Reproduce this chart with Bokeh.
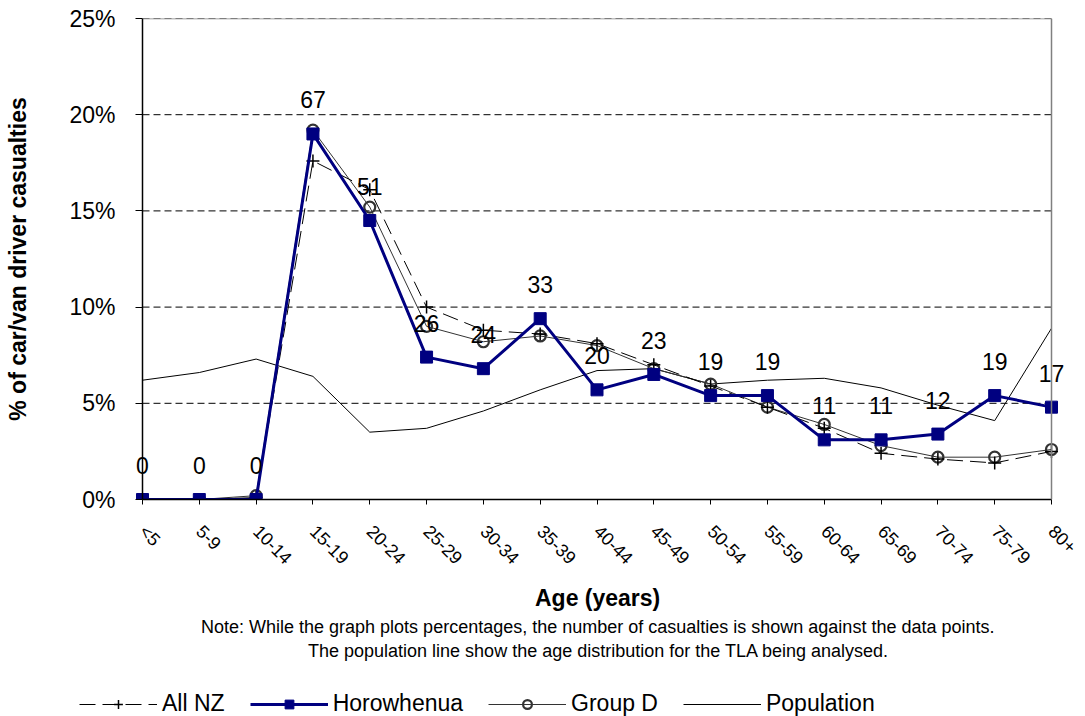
import math
from bokeh.plotting import figure
from bokeh.layouts import column
from bokeh.core.properties import value
from bokeh.models import (Range1d, FixedTicker, PrintfTickFormatter, LabelSet, ColumnDataSource,
                          Legend, LegendItem, Title, Span)
from bokeh.embed import file_html
from bokeh.resources import INLINE

categories = ["<5", "5-9", "10-14", "15-19", "20-24", "25-29", "30-34", "35-39", "40-44",
              "45-49", "50-54", "55-59", "60-64", "65-69", "70-74", "75-79", "80+"]
counts = [0, 0, 0, 67, 51, 26, 24, 33, 20, 23, 19, 19, 11, 11, 12, 19, 17]
horowhenua = [0, 0, 0, 19.0, 14.5, 7.4, 6.8, 9.4, 5.7, 6.5, 5.4, 5.4, 3.1, 3.1, 3.4, 5.4, 4.8]
all_nz = [0, 0, 0.1, 17.6, 16.1, 10.0, 8.8, 8.6, 8.1, 7.0, 5.9, 4.8, 3.7, 2.4, 2.1, 1.9, 2.5]
group_d = [0, 0, 0.2, 19.2, 15.2, 9.0, 8.2, 8.5, 8.0, 6.8, 6.0, 4.8, 3.9, 2.8, 2.2, 2.2, 2.6]
population = [6.2, 6.6, 7.3, 6.4, 3.5, 3.7, 4.6, 5.7, 6.7, 6.8, 6.0, 6.2, 6.3, 5.8, 4.9, 4.1, 8.9]
y_ticks = [0, 5, 10, 15, 20, 25]
series_names = ["All NZ", "Horowhenua", "Group D", "Population"]

FONT = "Liberation Sans"
xs = list(range(len(categories)))
x_last = len(categories) - 1
y_top = y_ticks[-1]

# plot area spans x = 142..1051 px; the frame is widened a little on both sides so that
# the data labels at the first and last category are not clipped
PLOT_L, PLOT_R, PAGE_W = 142, 1051, 1085
FRAME_L = 128
unit = (PLOT_R - PLOT_L) / x_last
x_start = -(PLOT_L - FRAME_L) / unit
x_end = x_last + (PAGE_W - PLOT_R) / unit

p = figure(width=PAGE_W, height=686, output_backend="svg", toolbar_location=None,
           x_range=Range1d(x_start, x_end), y_range=Range1d(0, y_top),
           min_border_left=FRAME_L, min_border_right=0, min_border_top=18, min_border_bottom=187)
p.frame_align = False
p.outline_line_color = None
p.background_fill_color = "white"
p.border_fill_color = "white"

# x axis
p.xaxis.ticker = FixedTicker(ticks=xs)
p.xaxis.bounds = (0, x_last)
p.xaxis.major_label_overrides = {i: c for i, c in enumerate(categories)}
p.xaxis.major_label_orientation = -math.pi / 4
p.xaxis.major_label_text_font = FONT
p.xaxis.major_label_text_font_size = "18px"
p.xaxis.major_label_text_color = "black"
p.xaxis.major_label_standoff = 24
p.xaxis.major_tick_out = 5
p.xaxis.major_tick_in = 0
p.xaxis.minor_tick_line_color = None
p.xaxis.axis_line_color = "black"
p.xaxis.axis_line_width = 1.5
p.xaxis.major_tick_line_color = "black"

# y axis: its ticks reach from the frame edge to the category origin line
gap = PLOT_L - FRAME_L
p.yaxis.ticker = FixedTicker(ticks=y_ticks)
p.yaxis.formatter = PrintfTickFormatter(format="%d%%")
p.yaxis.major_label_text_font = FONT
p.yaxis.major_label_text_font_size = "23px"
p.yaxis.major_label_text_color = "black"
p.yaxis.major_tick_out = 7 - gap
p.yaxis.major_tick_in = gap
p.yaxis.major_label_standoff = 13
p.yaxis.minor_tick_line_color = None
p.yaxis.axis_line_color = None
p.yaxis.major_tick_line_color = "black"
p.yaxis.axis_label = "% of car/van driver casualties"
p.yaxis.axis_label_text_font = FONT
p.yaxis.axis_label_text_font_style = "bold"
p.yaxis.axis_label_text_font_size = "23px"
p.yaxis.axis_label_text_color = "black"
p.yaxis.axis_label_standoff = 35

p.xgrid.grid_line_color = None
p.ygrid.grid_line_color = None

# axis line at the first category, plot-area border (top and right, grey), dashed gridlines
grid_y = y_ticks[1:]
p.segment(x0=[0] * len(grid_y), x1=[x_last] * len(grid_y), y0=grid_y, y1=grid_y,
          line_color="black", line_width=1, line_dash="7 4")
p.segment(x0=[0], x1=[x_last], y0=[y_top], y1=[y_top], line_color="#808080", line_width=1.5)
p.add_layout(Span(location=x_last, dimension="height", line_color="#808080", line_width=1.5))
p.add_layout(Span(location=0, dimension="height", line_color="black", line_width=1.5))

STY = {
    "All NZ": (dict(line_color="black", line_width=1, line_dash="16 7"),
               dict(marker="cross", size=13, line_color="black", line_width=1.5)),
    "Horowhenua": (dict(line_color="#000080", line_width=3),
                   dict(marker="square", size=12, fill_color="#000080", line_color="#000080")),
    "Group D": (dict(line_color="#333333", line_width=1),
                dict(marker="circle", size=11, fill_alpha=0, line_color="#333333", line_width=2.2)),
    "Population": (dict(line_color="black", line_width=1), None),
}
values = {"All NZ": all_nz, "Horowhenua": horowhenua, "Group D": group_d, "Population": population}

for name in ["Population", "Group D", "All NZ", "Horowhenua"]:
    lsty, msty = STY[name]
    p.line(xs, values[name], **lsty)
    if msty:
        p.scatter(xs, values[name], **msty)

src = ColumnDataSource(dict(x=xs, y=horowhenua, t=[str(c) for c in counts]))
labels = LabelSet(x="x", y="y", text="t", source=src, y_offset=34, text_align="center",
                  text_baseline="middle", text_font=value(FONT), text_font_size=value("23px"),
                  text_color="black")
p.add_layout(labels)

# axis title and notes below, centred on the plot area
center_x = (PLOT_L + PLOT_R) / 2
def below_title(text, size, style, est_width, standoff):
    return Title(text=text, align="left", text_font=FONT, text_font_size=size,
                 text_font_style=style, text_color="black", standoff=standoff,
                 offset=center_x - est_width / 2 - FRAME_L)

p.add_layout(below_title("Age (years)", "23px", "bold", 124, 8), "below")
p.add_layout(below_title("Note: While the graph plots percentages, the number of casualties is shown against the data points.",
                         "18px", "normal", 792, 0), "below")
p.add_layout(below_title("The population line  show the age distribution for the TLA being analysed.",
                         "18px", "normal", 578, 5), "below")

# legend strip below the chart; its renderers take the same data but lie outside its range
lg = figure(width=PAGE_W, height=30, output_backend="svg", toolbar_location=None,
            x_range=Range1d(0, x_last), y_range=Range1d(-3, -2), x_axis_type=None, y_axis_type=None,
            min_border_left=0, min_border_right=0, min_border_top=0, min_border_bottom=0)
lg.frame_align = False
lg.outline_line_color = None
lg.xgrid.grid_line_color = None
lg.ygrid.grid_line_color = None
items = []
for name in series_names:
    lsty, msty = STY[name]
    rs = [lg.line(xs, values[name], **lsty)]
    if msty:
        rs.append(lg.scatter(xs, values[name], **msty))
    items.append(LegendItem(label=name, renderers=rs))

legend = Legend(items=items, orientation="horizontal", location=(79, -1), glyph_width=78,
                glyph_height=22, label_standoff=5, spacing=25, padding=0, margin=0,
                border_line_color=None, background_fill_alpha=0, label_text_font=FONT,
                label_text_font_size="23px", label_text_color="black")
lg.add_layout(legend, "center")

open("out.html", "w").write(file_html(column(p, lg, spacing=0), INLINE))
